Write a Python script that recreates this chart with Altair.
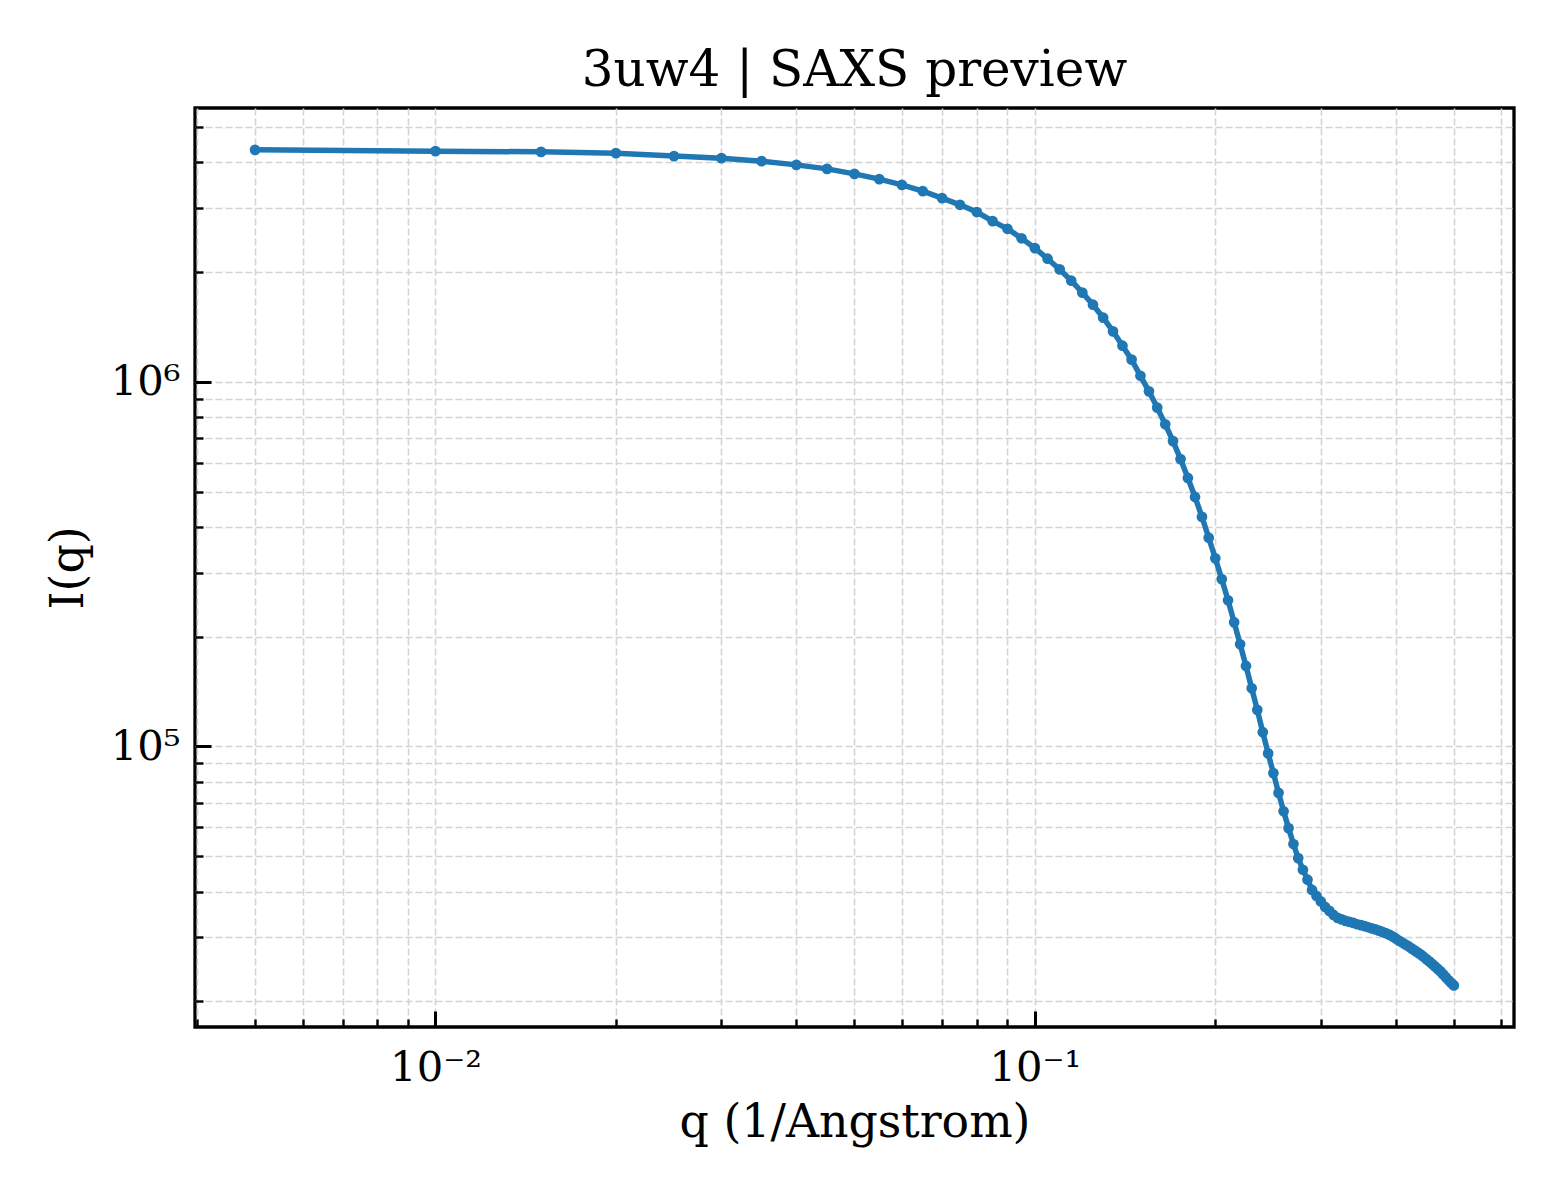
import altair as alt
import pandas as pd

q_values = [
    0.005, 0.010, 0.015, 0.020, 0.025, 0.030, 0.035, 0.040, 0.045, 0.050,
    0.055, 0.060, 0.065, 0.070, 0.075, 0.080, 0.085, 0.090, 0.095, 0.100,
    0.105, 0.110, 0.115, 0.120, 0.125, 0.130, 0.135, 0.140, 0.145, 0.150,
    0.155, 0.160, 0.165, 0.170, 0.175, 0.180, 0.185, 0.190, 0.195, 0.200,
    0.205, 0.210, 0.215, 0.220, 0.225, 0.230, 0.235, 0.240, 0.245, 0.250,
    0.255, 0.260, 0.265, 0.270, 0.275, 0.280, 0.285, 0.290, 0.295, 0.300,
    0.305, 0.310, 0.315, 0.320, 0.325, 0.330, 0.335, 0.340, 0.345, 0.350,
    0.355, 0.360, 0.365, 0.370, 0.375, 0.380, 0.385, 0.390, 0.395, 0.400,
    0.405, 0.410, 0.415, 0.420, 0.425, 0.430, 0.435, 0.440, 0.445, 0.450,
    0.455, 0.460, 0.465, 0.470, 0.475, 0.480, 0.485, 0.490, 0.495, 0.500,
]

intensity = [
    4.330e6, 4.295e6, 4.276e6, 4.241e6, 4.162e6, 4.109e6, 4.032e6, 3.938e6, 3.840e6, 3.721e6,
    3.599e6, 3.471e6, 3.336e6, 3.192e6, 3.060e6, 2.923e6, 2.761e6, 2.630e6, 2.477e6, 2.328e6,
    2.177e6, 2.035e6, 1.895e6, 1.757e6, 1.628e6, 1.500e6, 1.376e6, 1.257e6, 1.151e6, 1.039e6,
    9.420e5, 8.500e5, 7.650e5, 6.880e5, 6.140e5, 5.450e5, 4.835e5, 4.262e5, 3.737e5, 3.281e5,
    2.878e5, 2.517e5, 2.190e5, 1.906e5, 1.663e5, 1.444e5, 1.260e5, 1.094e5, 9.570e4, 8.450e4,
    7.460e4, 6.640e4, 5.970e4, 5.400e4, 4.940e4, 4.590e4, 4.310e4, 4.040e4, 3.890e4, 3.757e4,
    3.629e4, 3.539e4, 3.450e4, 3.386e4, 3.354e4, 3.322e4, 3.301e4, 3.280e4, 3.253e4, 3.235e4,
    3.214e4, 3.192e4, 3.168e4, 3.148e4, 3.124e4, 3.099e4, 3.074e4, 3.046e4, 3.012e4, 2.974e4,
    2.933e4, 2.900e4, 2.864e4, 2.832e4, 2.793e4, 2.758e4, 2.723e4, 2.689e4, 2.650e4, 2.610e4,
    2.573e4, 2.533e4, 2.493e4, 2.454e4, 2.415e4, 2.370e4, 2.326e4, 2.283e4, 2.246e4, 2.211e4,
]

x_major = [0.01, 0.1]
x_minor = [0.004, 0.005, 0.006, 0.007, 0.008, 0.009,
           0.02, 0.03, 0.04, 0.05, 0.06, 0.07, 0.08, 0.09,
           0.2, 0.3, 0.4, 0.5, 0.6]
y_major = [1e5, 1e6]
y_minor = [2e4, 3e4, 4e4, 5e4, 6e4, 7e4, 8e4, 9e4,
           2e5, 3e5, 4e5, 5e5, 6e5, 7e5, 8e5, 9e5,
           2e6, 3e6, 4e6, 5e6]

df = pd.DataFrame({"q": q_values, "I": intensity})

FONT = "DejaVu Serif"
BLUE = "#1f77b4"
x_scale = alt.Scale(type="log", domain=[0.00397, 0.63], nice=False)
y_scale = alt.Scale(type="log", domain=[1.7e4, 5.64e6], nice=False)

grid_style = dict(grid=True, ticks=False, labels=False, domain=False, title=None,
                  gridColor="#d4d4d4", gridWidth=1.6, gridDash=[7, 3])

# dashed grid on major and minor decades, carried by the line layer
line = alt.Chart(df).mark_line(color=BLUE, strokeWidth=5.5).encode(
    x=alt.X("q:Q", scale=x_scale,
            axis=alt.Axis(orient="bottom", values=x_major + x_minor, **grid_style)),
    y=alt.Y("I:Q", scale=y_scale,
            axis=alt.Axis(orient="left", values=y_major + y_minor, **grid_style)),
)

# markers carry the labelled major axes, ticks pointing inward
points = alt.Chart(df).mark_circle(color=BLUE, size=115, opacity=1).encode(
    x=alt.X("q:Q", scale=x_scale,
            axis=alt.Axis(orient="bottom", values=x_major, grid=False, domain=False,
                          offset=-16, tickSize=16, tickWidth=3, tickColor="black",
                          labelExpr="datum.value < 0.05 ? '10⁻²' : '10⁻¹'",
                          labelFont=FONT, labelFontSize=41.7, labelColor="black",
                          labelPadding=20,
                          title="q (1/Angstrom)", titleFont=FONT, titleFontSize=45.8,
                          titleFontWeight="normal", titleColor="black", titlePadding=12)),
    y=alt.Y("I:Q", scale=y_scale,
            axis=alt.Axis(orient="left", values=y_major, grid=False, domain=False,
                          offset=-16, tickSize=16, tickWidth=3, tickColor="black",
                          labelExpr="datum.value > 5e5 ? '10⁶' : '10⁵'",
                          labelFont=FONT, labelFontSize=41.7, labelColor="black",
                          labelPadding=15,
                          title="I(q)", titleFont=FONT, titleFontSize=45.8,
                          titleFontWeight="normal", titleColor="black", titlePadding=18)),
)

# invisible layer for the shorter minor ticks
minor = alt.Chart(df).mark_point(opacity=0).encode(
    x=alt.X("q:Q", scale=x_scale,
            axis=alt.Axis(orient="bottom", values=x_minor, grid=False, domain=False,
                          labels=False, title=None, offset=-8, tickSize=8,
                          tickWidth=2.4, tickColor="black")),
    y=alt.Y("I:Q", scale=y_scale,
            axis=alt.Axis(orient="left", values=y_minor, grid=False, domain=False,
                          labels=False, title=None, offset=-8, tickSize=8,
                          tickWidth=2.4, tickColor="black")),
)

chart = alt.layer(line, points, minor).resolve_axis(
    x="independent", y="independent"
).properties(
    width=1319,
    height=919,
    autosize=alt.AutoSizeParams(type="none"),
    padding={"left": 187, "top": 100, "right": 30, "bottom": 160},
    title=alt.TitleParams("3uw4 | SAXS preview", font=FONT, fontSize=50,
                          fontWeight="normal", color="black", anchor="middle",
                          baseline="alphabetic", offset=-28),
).configure_view(stroke="black", strokeWidth=3.3)

chart.save("out.html", embed_options={"renderer": "svg", "actions": False})
